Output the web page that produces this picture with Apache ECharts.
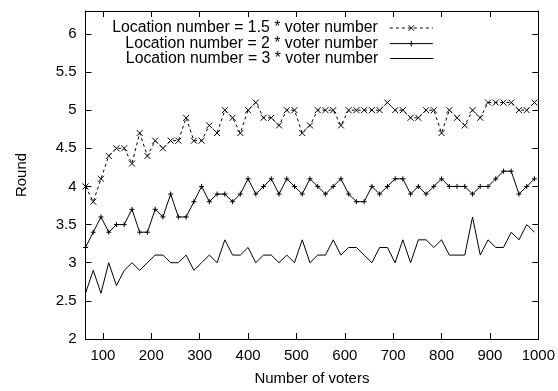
<!DOCTYPE html>
<html>
<head>
<meta charset="utf-8">
<script src="https://cdn.jsdelivr.net/npm/echarts@6/dist/echarts.min.js"></script>
<style>
html,body{margin:0;padding:0;background:#fff;}
#chart{width:558px;height:391px;}
</style>
</head>
<body>
<div id="chart"></div>
<script>
// Number of voters (x values)
const voters = [64,80,96,112,128,144,160,176,192,208,224,240,256,272,288,304,320,336,352,368,384,400,416,432,448,464,480,496,512,528,544,560,576,592,608,624,640,656,672,688,704,720,736,752,768,784,800,816,832,848,864,880,896,912,928,944,960,976,992];
// Location number = 1.5 * voter number
const round15 = [4.0,3.8,4.1,4.4,4.5,4.5,4.3,4.7,4.4,4.6,4.5,4.6,4.6,4.9,4.6,4.6,4.8,4.7,5.0,4.9,4.7,
                 5.0,5.1,4.9,4.9,4.8,5.0,5.0,4.7,4.8,5.0,5.0,5.0,4.8,5.0,5.0,5.0,5.0,5.0,5.1,
                 5.0,5.0,4.9,4.9,5.0,5.0,4.7,5.0,4.9,4.8,5.0,4.9,5.1,5.1,5.1,5.1,5.0,5.0,5.1];
// Location number = 2 * voter number
const round2 = [3.2,3.4,3.6,3.4,3.5,3.5,3.7,3.4,3.4,3.7,3.6,3.9,3.6,3.6,3.8,4.0,3.8,3.9,3.9,3.8,3.9,
                4.1,3.9,4.0,4.1,3.9,4.1,4.0,3.9,4.1,4.0,3.9,4.0,4.1,3.9,3.8,3.8,4.0,3.9,4.0,
                4.1,4.1,3.9,4.0,3.9,4.0,4.1,4.0,4.0,4.0,3.9,4.0,4.0,4.1,4.2,4.2,3.9,4.0,4.1];
// Location number = 3 * voter number
const round3 = [2.6,2.9,2.6,3.0,2.7,2.9,3.0,2.9,3.0,3.1,3.1,3.0,3.0,3.1,2.9,3.0,3.1,3.0,3.3,3.1,3.1,
                3.2,3.0,3.1,3.1,3.0,3.1,3.0,3.3,3.0,3.1,3.1,3.3,3.1,3.2,3.2,3.1,3.0,3.2,3.2,
                3.0,3.3,3.0,3.3,3.3,3.2,3.3,3.1,3.1,3.1,3.6,3.1,3.3,3.2,3.2,3.4,3.3,3.5,3.4];
const xTicks = [100,200,300,400,500,600,700,800,900,1000];
const yTicks = [2,2.5,3,3.5,4,4.5,5,5.5,6];
const names = ['Location number = 1.5 * voter number','Location number = 2 * voter number','Location number = 3 * voter number'];

const FONT = 'Liberation Sans, Arial, Helvetica, sans-serif';
const pairs = arr => voters.map((v,i)=>[v,arr[i]]);
const lineAxis = {show:true,onZero:false,lineStyle:{color:'#000',width:1}};
const txt = {color:'#000',fontFamily:FONT,fontSize:15};

function xAx(pos, labels){
  return {type:'value',min:64,max:1000,position:pos,
    axisLine:lineAxis,
    axisTick:{show:true,inside:true,length:6,customValues:xTicks,lineStyle:{color:'#000',width:1}},
    axisLabel:Object.assign({show:labels,margin:9,customValues:xTicks,formatter:v=>String(v)},txt),
    splitLine:{show:false},
    name: labels ? 'Number of voters' : '',
    nameLocation:'middle',nameGap:32,nameTextStyle:txt};
}
function yAx(pos, labels){
  return {type:'value',min:2,max:6.3,position:pos,
    axisLine:lineAxis,
    axisTick:{show:true,inside:true,length:6,customValues:yTicks,lineStyle:{color:'#000',width:1}},
    axisLabel:Object.assign({show:labels,margin:9,customValues:yTicks,formatter:v=>String(v)},txt),
    splitLine:{show:false},
    name: labels ? 'Round' : '',
    nameLocation:'middle',nameRotate:90,nameGap:56,nameTextStyle:txt};
}
const legTxt = {color:'#000',fontFamily:FONT,fontSize:15.8,padding:[0,7,0,0]};
const legBase = {right:124.7,orient:'vertical',align:'right',padding:0,itemWidth:43,
  textStyle:legTxt,selectedMode:false,lineStyle:{width:1},itemStyle:{borderWidth:1}};
const chart = echarts.init(document.getElementById('chart'),null,{renderer:'canvas'});
chart.setOption({
  animation:false,
  backgroundColor:'#fff',
  grid:{left:85.5,right:17.5,top:11,bottom:47.7,containLabel:false},
  xAxis:[xAx('bottom',true), xAx('top',false)],
  yAxis:[yAx('left',true), yAx('right',false)],
  legend:[
    Object.assign({data:[names[0]],top:20,itemHeight:7},legBase),
    Object.assign({data:[names[1]],top:35.6,itemHeight:7},legBase),
    Object.assign({data:[{name:names[2],icon:'rect'}],top:50.6,itemHeight:1},legBase)
  ],
  series:[
    {name:names[0],type:'line',data:pairs(round15),
     symbol:'path://M0,0L10,10M10,0L0,10',symbolSize:6,showSymbol:true,
     itemStyle:{color:'#000',borderColor:'#000',borderWidth:1},
     lineStyle:{color:'#000',width:1,type:[3,3]}},
    {name:names[1],type:'line',data:pairs(round2),
     symbol:'path://M5,0L5,10M0,5L10,5',symbolSize:5,showSymbol:true,
     itemStyle:{color:'#000',borderColor:'#000',borderWidth:1},
     lineStyle:{color:'#000',width:1}},
    {name:names[2],type:'line',data:pairs(round3),
     symbol:'none',
     itemStyle:{color:'#000'},
     lineStyle:{color:'#000',width:1}}
  ]
});
</script>
</body>
</html>
